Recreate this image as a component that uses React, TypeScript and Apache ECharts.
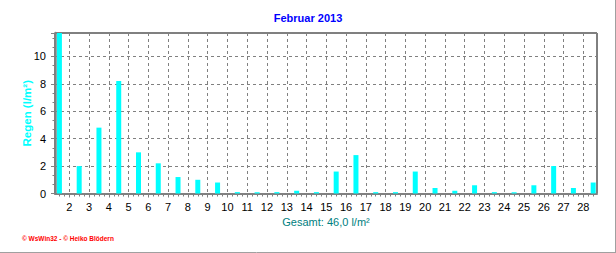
import React, { useEffect, useRef } from "react";
import * as echarts from "echarts";

// Februar 2013 daily rain (l/m²)
const days = [1, 2, 3, 4, 5, 6, 7, 8, 9, 10, 11, 12, 13, 14, 15, 16, 17, 18, 19, 20, 21, 22, 23, 24, 25, 26, 27, 28];
const rain = [11.7, 2.0, 4.8, 8.2, 3.0, 2.2, 1.2, 1.0, 0.8, 0.1, 0.1, 0.1, 0.2, 0.1, 1.6, 2.8, 0.1, 0.1, 1.6, 0.4, 0.2, 0.6, 0.1, 0.1, 0.6, 2.0, 0.4, 0.8];
const xTickLabels = [2, 3, 4, 5, 6, 7, 8, 9, 10, 11, 12, 13, 14, 15, 16, 17, 18, 19, 20, 21, 22, 23, 24, 25, 26, 27, 28];
const titleText = "Februar 2013";
const yName = "Regen (l/m²)";
const totalText = "Gesamt: 46,0 l/m²";
const footerText = "© WsWin32 - © Heiko Blödern";

const X_MIN = 1.2767;
const X_MAX = 28.693;
const Y_MAX = 11.7;
const FONT = "'Liberation Sans', Arial, sans-serif";

export default function App() {
  const ref = useRef<HTMLDivElement | null>(null);

  useEffect(() => {
    if (!ref.current) return;
    const chart = echarts.init(ref.current, null, { renderer: "svg" });

    // quarter-day minor tick positions
    const quarterTicks: number[] = [];
    days.forEach((d) => {
      [0, 0.25, 0.5, 0.75].forEach((q) => {
        const v = d + q;
        if (v > X_MIN && v < X_MAX) quarterTicks.push(v);
      });
    });

    const barData = days.map((d, i) => [d + 0.5, rain[i]]);

    chart.setOption({
      animation: false,
      backgroundColor: "#ffffff",
      title: {
        text: titleText,
        left: "center",
        top: 12,
        padding: 0,
        textStyle: { color: "#0000FF", fontSize: 11, fontWeight: "bold", fontFamily: FONT },
      },
      grid: {
        left: 55,
        top: 33,
        width: 542,
        height: 160.5,
        show: true,
        borderColor: "#000000",
        borderWidth: 1,
        backgroundColor: "#ffffff",
      },
      xAxis: [
        {
          type: "value",
          position: "bottom",
          min: X_MIN,
          max: X_MAX,
          name: totalText,
          nameLocation: "middle",
          nameGap: 23,
          nameMoveOverlap: false,
          nameTextStyle: { color: "#008080", fontSize: 11, fontFamily: FONT },
          axisLine: { show: true, lineStyle: { color: "#808080", width: 2 } },
          axisTick: { show: true, length: 4, customValues: xTickLabels, lineStyle: { color: "#808080" } },
          axisLabel: {
            customValues: xTickLabels,
            margin: 8,
            color: "#000000",
            fontSize: 11,
            fontFamily: FONT,
          },
          splitLine: { show: true, lineStyle: { color: "#808080", width: 1, type: [3, 3] } },
          minorTick: { show: false },
        },
        {
          type: "value",
          position: "bottom",
          min: X_MIN,
          max: X_MAX,
          axisLine: { show: false },
          axisTick: { show: true, length: 3, customValues: quarterTicks, lineStyle: { color: "#808080" } },
          axisLabel: { show: false },
          splitLine: { show: false },
        },
      ],
      yAxis: {
        type: "value",
        min: 0,
        max: Y_MAX,
        interval: 2,
        name: yName,
        nameLocation: "middle",
        nameGap: 22,
        nameMoveOverlap: false,
        nameTextStyle: { color: "#00FFFF", fontSize: 11.5, fontWeight: "bold", fontFamily: FONT },
        axisLine: { show: true, lineStyle: { color: "#808080", width: 2.5 } },
        axisTick: { show: true, length: 4, lineStyle: { color: "#808080" } },
        minorTick: { show: true, splitNumber: 3, length: 2.5, lineStyle: { color: "#808080" } },
        axisLabel: {
          margin: 9,
          showMaxLabel: false,
          color: "#000000",
          fontSize: 11,
          fontFamily: FONT,
        },
        splitLine: { show: true, lineStyle: { color: "#808080", width: 1, type: [3, 3] } },
      },
      series: [
        {
          type: "bar",
          xAxisIndex: 0,
          data: barData,
          barWidth: 5,
          itemStyle: { color: "#00FFFF" },
          z: 3,
        },
      ],
      graphic: [
        {
          type: "text",
          left: 22,
          top: 235,
          style: {
            text: footerText,
            fill: "#FF0000",
            fontSize: 6.5,
            fontWeight: "bold",
            fontFamily: FONT,
          },
        },
        {
          type: "line",
          shape: { x1: 615.5, y1: 0, x2: 615.5, y2: 253 },
          style: { stroke: "#A0A0A0", lineWidth: 1 },
        },
        {
          type: "line",
          shape: { x1: 0, y1: 252.5, x2: 616, y2: 252.5 },
          style: { stroke: "#A0A0A0", lineWidth: 1 },
        },
      ],
    });

    return () => chart.dispose();
  }, []);

  return (
    <div
      ref={ref}
      style={{ position: "fixed", left: 0, top: 0, width: 616, height: 253 }}
    />
  );
}
